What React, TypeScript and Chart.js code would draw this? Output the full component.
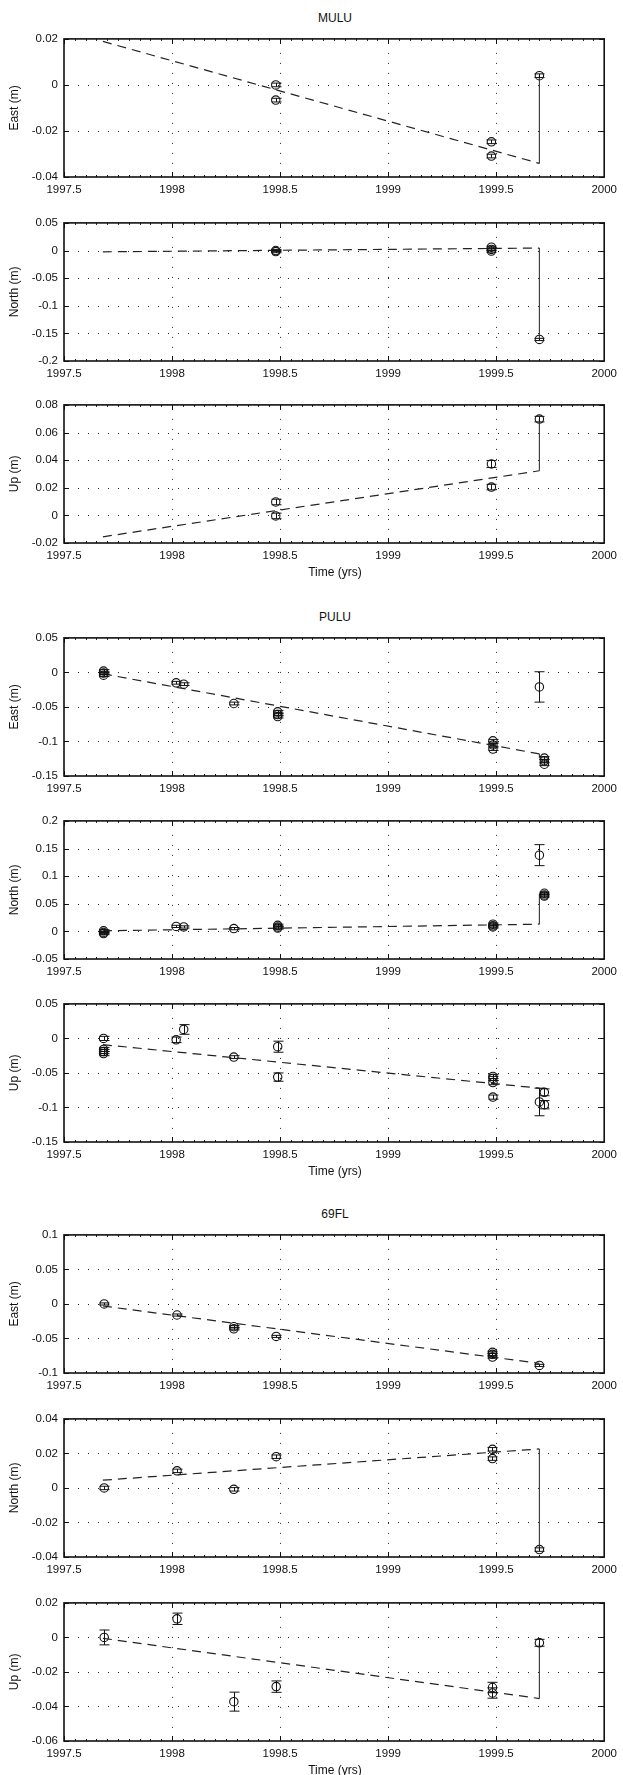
import React, { useEffect, useRef } from "react";
import { Chart, registerables } from "chart.js";
Chart.register(...registerables);

const FONT = "'Liberation Sans', Arial, Helvetica, sans-serif";

// ---------- shared axis data ----------
const yearTicks = [1997.5, 1998, 1998.5, 1999, 1999.5, 2000];
const modelT = [1997.68, 1999.7];

// ---------- MULU ----------
const muluEastT = [1998.48, 1998.48, 1999.478, 1999.478, 1999.7];
const muluEastY = [0.0, -0.0066, -0.0247, -0.0309, 0.004];
const muluEastErr = [0.0008, 0.0008, 0.0008, 0.0008, 0.0008];
const muluEastModel = [0.0189, -0.0341];
const muluEastStep = 0.004;
const muluEastTicks = [-0.04, -0.02, 0, 0.02];

const muluNorthT = [1998.48, 1998.48, 1999.478, 1999.478, 1999.478, 1999.7];
const muluNorthY = [0.0, -0.002, 0.006, 0.002, -0.001, -0.161];
const muluNorthErr = [0.002, 0.002, 0.002, 0.002, 0.002, 0.002];
const muluNorthModel = [-0.0024, 0.0045];
const muluNorthStep = -0.161;
const muluNorthTicks = [-0.2, -0.15, -0.1, -0.05, 0, 0.05];

const muluUpT = [1998.48, 1998.48, 1999.478, 1999.478, 1999.7];
const muluUpY = [0.0097, -0.0004, 0.0372, 0.0205, 0.0697];
const muluUpErr = [0.002, 0.002, 0.0025, 0.002, 0.002];
const muluUpModel = [-0.0155, 0.0323];
const muluUpStep = 0.0697;
const muluUpTicks = [-0.02, 0, 0.02, 0.04, 0.06, 0.08];

// ---------- PULU ----------
const puluEastT = [1997.683, 1997.683, 1997.683, 1998.019, 1998.054, 1998.286, 1998.489, 1998.489, 1998.489, 1999.485, 1999.485, 1999.485, 1999.7, 1999.723, 1999.723, 1999.723];
const puluEastY = [0.002, -0.001, -0.004, -0.015, -0.017, -0.045, -0.057, -0.061, -0.064, -0.099, -0.105, -0.111, -0.021, -0.124, -0.128, -0.133];
const puluEastErr = [0.002, 0.002, 0.002, 0.002, 0.002, 0.002, 0.002, 0.002, 0.002, 0.002, 0.002, 0.002, 0.022, 0.002, 0.002, 0.002];
const puluEastModel = [-0.002, -0.118];
const puluEastStep = -0.124;
const puluEastTicks = [-0.15, -0.1, -0.05, 0, 0.05];

const puluNorthT = [1997.683, 1997.683, 1997.683, 1998.019, 1998.054, 1998.286, 1998.489, 1998.489, 1998.489, 1999.485, 1999.485, 1999.485, 1999.7, 1999.723, 1999.723, 1999.723];
const puluNorthY = [0.001, -0.002, -0.004, 0.009, 0.008, 0.005, 0.011, 0.008, 0.006, 0.013, 0.01, 0.008, 0.138, 0.069, 0.066, 0.064];
const puluNorthErr = [0.002, 0.002, 0.002, 0.002, 0.002, 0.002, 0.002, 0.002, 0.002, 0.002, 0.002, 0.002, 0.019, 0.002, 0.002, 0.002];
const puluNorthModel = [0.001, 0.013];
const puluNorthStep = 0.068;
const puluNorthTicks = [-0.05, 0, 0.05, 0.1, 0.15, 0.2];

const puluUpT = [1997.683, 1997.683, 1997.683, 1997.683, 1998.019, 1998.054, 1998.286, 1998.489, 1998.489, 1999.485, 1999.485, 1999.485, 1999.485, 1999.7, 1999.723, 1999.723];
const puluUpY = [0.0, -0.016, -0.019, -0.022, -0.002, 0.013, -0.027, -0.012, -0.056, -0.055, -0.058, -0.064, -0.085, -0.092, -0.078, -0.096];
const puluUpErr = [0.003, 0.003, 0.003, 0.003, 0.004, 0.007, 0.002, 0.008, 0.006, 0.003, 0.003, 0.003, 0.003, 0.02, 0.005, 0.006];
const puluUpModel = [-0.009, -0.072];
const puluUpStep = null;
const puluUpTicks = [-0.15, -0.1, -0.05, 0, 0.05];

// ---------- 69FL ----------
const flEastT = [1997.686, 1998.023, 1998.286, 1998.286, 1998.482, 1999.483, 1999.483, 1999.483, 1999.7];
const flEastY = [0.0, -0.016, -0.033, -0.036, -0.047, -0.07, -0.073, -0.077, -0.089];
const flEastErr = [0.0015, 0.0015, 0.0015, 0.0015, 0.0015, 0.0015, 0.0015, 0.0015, 0.0015];
const flEastModel = [-0.003, -0.086];
const flEastStep = null;
const flEastTicks = [-0.1, -0.05, 0, 0.05, 0.1];

const flNorthT = [1997.686, 1998.023, 1998.286, 1998.482, 1999.483, 1999.483, 1999.7];
const flNorthY = [0.0, 0.0099, -0.0008, 0.0181, 0.0224, 0.017, -0.0357];
const flNorthErr = [0.001, 0.001, 0.001, 0.001, 0.001, 0.001, 0.001];
const flNorthModel = [0.0045, 0.0226];
const flNorthStep = -0.0357;
const flNorthTicks = [-0.04, -0.02, 0, 0.02, 0.04];

const flUpT = [1997.686, 1998.023, 1998.286, 1998.482, 1999.483, 1999.483, 1999.7];
const flUpY = [0.0, 0.0108, -0.0372, -0.0285, -0.029, -0.0322, -0.0031];
const flUpErr = [0.0043, 0.0033, 0.0055, 0.0033, 0.003, 0.003, 0.002];
const flUpModel = [-0.0005, -0.0354];
const flUpStep = -0.0031;
const flUpTicks = [-0.06, -0.04, -0.02, 0, 0.02];

type Panel = {
  label: string;
  t: number[];
  y: number[];
  err: number[];
  model: number[];
  step: number | null;
  ticks: number[];
};

const stations: { name: string; panels: Panel[] }[] = [
  {
    name: "MULU",
    panels: [
      { label: "East (m)", t: muluEastT, y: muluEastY, err: muluEastErr, model: muluEastModel, step: muluEastStep, ticks: muluEastTicks },
      { label: "North (m)", t: muluNorthT, y: muluNorthY, err: muluNorthErr, model: muluNorthModel, step: muluNorthStep, ticks: muluNorthTicks },
      { label: "Up (m)", t: muluUpT, y: muluUpY, err: muluUpErr, model: muluUpModel, step: muluUpStep, ticks: muluUpTicks },
    ],
  },
  {
    name: "PULU",
    panels: [
      { label: "East (m)", t: puluEastT, y: puluEastY, err: puluEastErr, model: puluEastModel, step: puluEastStep, ticks: puluEastTicks },
      { label: "North (m)", t: puluNorthT, y: puluNorthY, err: puluNorthErr, model: puluNorthModel, step: puluNorthStep, ticks: puluNorthTicks },
      { label: "Up (m)", t: puluUpT, y: puluUpY, err: puluUpErr, model: puluUpModel, step: puluUpStep, ticks: puluUpTicks },
    ],
  },
  {
    name: "69FL",
    panels: [
      { label: "East (m)", t: flEastT, y: flEastY, err: flEastErr, model: flEastModel, step: flEastStep, ticks: flEastTicks },
      { label: "North (m)", t: flNorthT, y: flNorthY, err: flNorthErr, model: flNorthModel, step: flNorthStep, ticks: flNorthTicks },
      { label: "Up (m)", t: flUpT, y: flUpY, err: flUpErr, model: flUpModel, step: flUpStep, ticks: flUpTicks },
    ],
  },
];

// ---------- layout ----------
const PAGE_W = 623;
const PAGE_H = 1775;
const PLOT_LEFT = 64;
const PLOT_RIGHT = 606;
const PLOT_H = 143;
const PAD_TOP = 8;
const X_AXIS_H = 30;
const CANVAS_H = PAD_TOP + PLOT_H + X_AXIS_H;
const plotTops = [
  [34, 218, 400],
  [633, 816, 999],
  [1230, 1414, 1598],
];

const INK = "#111";
const LABEL_SIZE = 12;
const TICK_SIZE = 11.5;

function fmt(v: number): string {
  const n = Number(v.toFixed(4));
  return n === 0 ? "0" : String(n);
}

function PanelChart({ panel, top }: { panel: Panel; top: number }) {
  const ref = useRef<HTMLCanvasElement | null>(null);
  useEffect(() => {
    const canvas = ref.current;
    if (!canvas) return;

    const gridPlugin = {
      id: "matlabGrid",
      beforeDatasetsDraw(chart: any) {
        const { ctx, chartArea: a, scales } = chart;
        const xs = scales.x;
        const ys = scales.y;
        ctx.save();
        ctx.strokeStyle = "#222";
        ctx.lineWidth = 1;
        ctx.setLineDash([1, 9]);
        yearTicks.forEach((v) => {
          if (v <= xs.min || v >= xs.max) return;
          const px = Math.round(xs.getPixelForValue(v)) + 0.5;
          ctx.beginPath();
          ctx.moveTo(px, a.top + 4);
          ctx.lineTo(px, a.bottom);
          ctx.stroke();
        });
        panel.ticks.forEach((v) => {
          if (v <= ys.min || v >= ys.max) return;
          const py = Math.round(ys.getPixelForValue(v)) + 0.5;
          ctx.beginPath();
          ctx.moveTo(a.left + 4, py);
          ctx.lineTo(a.right, py);
          ctx.stroke();
        });
        ctx.restore();
      },
    };

    const errPlugin = {
      id: "errBars",
      afterDatasetsDraw(chart: any) {
        const { ctx, scales } = chart;
        const xs = scales.x;
        const ys = scales.y;
        ctx.save();
        ctx.strokeStyle = INK;
        ctx.lineWidth = 1;
        ctx.setLineDash([]);
        panel.t.forEach((t, i) => {
          const px = Math.round(xs.getPixelForValue(t)) + 0.5;
          const y1 = ys.getPixelForValue(panel.y[i] + panel.err[i]);
          const y2 = ys.getPixelForValue(panel.y[i] - panel.err[i]);
          ctx.beginPath();
          ctx.moveTo(px, y1);
          ctx.lineTo(px, y2);
          ctx.moveTo(px - 5, y1);
          ctx.lineTo(px + 5, y1);
          ctx.moveTo(px - 5, y2);
          ctx.lineTo(px + 5, y2);
          ctx.stroke();
        });
        ctx.restore();
      },
    };

    const framePlugin = {
      id: "frame",
      afterDraw(chart: any) {
        const { ctx, chartArea: a, scales } = chart;
        const xs = scales.x;
        const ys = scales.y;
        ctx.save();
        ctx.setLineDash([]);
        ctx.strokeStyle = INK;
        ctx.lineWidth = 1;
        // minor ticks on x (top & bottom)
        for (let i = 1; i < 50; i++) {
          const v = 1997.5 + i * 0.05;
          const px = Math.round(xs.getPixelForValue(v)) + 0.5;
          ctx.beginPath();
          ctx.moveTo(px, a.bottom);
          ctx.lineTo(px, a.bottom - 2);
          ctx.moveTo(px, a.top);
          ctx.lineTo(px, a.top + 2);
          ctx.stroke();
        }
        yearTicks.forEach((v) => {
          const px = Math.round(xs.getPixelForValue(v)) + 0.5;
          ctx.beginPath();
          ctx.moveTo(px, a.bottom);
          ctx.lineTo(px, a.bottom - 5);
          ctx.moveTo(px, a.top);
          ctx.lineTo(px, a.top + 5);
          ctx.stroke();
        });
        panel.ticks.forEach((v) => {
          const py = Math.round(ys.getPixelForValue(v)) + 0.5;
          ctx.beginPath();
          ctx.moveTo(a.left, py);
          ctx.lineTo(a.left + 5, py);
          ctx.moveTo(a.right, py);
          ctx.lineTo(a.right - 5, py);
          ctx.stroke();
        });
        ctx.lineWidth = 1.6;
        ctx.strokeRect(a.left, a.top, a.right - a.left, a.bottom - a.top);
        ctx.restore();
      },
    };

    const datasets: any[] = [
      {
        data: modelT.map((t, i) => ({ x: t, y: panel.model[i] })),
        showLine: true,
        borderColor: "#222",
        borderWidth: 1.2,
        borderDash: [9, 6],
        pointRadius: 0,
        fill: false,
      },
    ];
    if (panel.step !== null) {
      datasets.push({
        data: [
          { x: modelT[1], y: panel.model[1] },
          { x: modelT[1], y: panel.step },
        ],
        showLine: true,
        borderColor: "#333",
        borderWidth: 1.1,
        pointRadius: 0,
        fill: false,
      });
    }
    datasets.push({
      data: panel.t.map((t, i) => ({ x: t, y: panel.y[i] })),
      showLine: false,
      pointStyle: "circle",
      pointRadius: 4.2,
      pointBorderWidth: 1.1,
      pointBorderColor: INK,
      pointBackgroundColor: "rgba(0,0,0,0)",
    });

    const tickFont = { family: FONT, size: TICK_SIZE };

    const chart = new Chart(canvas, {
      type: "scatter",
      data: { datasets },
      options: {
        animation: false,
        responsive: false,
        maintainAspectRatio: false,
        events: [],
        layout: { padding: { top: PAD_TOP, right: PAGE_W - PLOT_RIGHT, left: 0, bottom: 0 } },
        plugins: {
          legend: { display: false },
          tooltip: { enabled: false },
          title: { display: false },
        },
        scales: {
          x: {
            type: "linear",
            min: yearTicks[0],
            max: yearTicks[yearTicks.length - 1],
            afterBuildTicks: (s: any) => {
              s.ticks = yearTicks.map((v) => ({ value: v }));
            },
            afterFit: (s: any) => {
              s.height = X_AXIS_H;
            },
            grid: { display: false, drawTicks: false },
            border: { display: false },
            ticks: {
              font: tickFont,
              color: INK,
              padding: 6,
              maxRotation: 0,
              autoSkip: false,
              callback: (v: any) => fmt(Number(v)),
            },
          },
          y: {
            type: "linear",
            min: panel.ticks[0],
            max: panel.ticks[panel.ticks.length - 1],
            afterBuildTicks: (s: any) => {
              s.ticks = panel.ticks.map((v) => ({ value: v }));
            },
            afterFit: (s: any) => {
              s.width = PLOT_LEFT;
            },
            grid: { display: false, drawTicks: false },
            border: { display: false },
            ticks: {
              font: tickFont,
              color: INK,
              padding: 6,
              autoSkip: false,
              callback: (v: any) => fmt(Number(v)),
            },
            title: {
              display: true,
              text: panel.label,
              font: { family: FONT, size: LABEL_SIZE },
              color: INK,
              padding: { top: 7.5, bottom: 0 },
            },
          },
        },
      } as any,
      plugins: [gridPlugin, errPlugin, framePlugin],
    });
    return () => chart.destroy();
  }, [panel]);

  return (
    <canvas
      ref={ref}
      width={PAGE_W}
      height={CANVAS_H}
      style={{ position: "absolute", left: 0, top: top - PAD_TOP, width: PAGE_W, height: CANVAS_H }}
    />
  );
}

const textStyle: React.CSSProperties = {
  position: "absolute",
  left: PLOT_LEFT,
  width: PLOT_RIGHT - PLOT_LEFT,
  textAlign: "center",
  fontFamily: FONT,
  fontSize: LABEL_SIZE,
  lineHeight: "14px",
  height: 14,
  color: INK,
  whiteSpace: "nowrap",
};

export default function App() {
  return (
    <div
      style={{
        position: "absolute",
        left: 0,
        top: 0,
        width: PAGE_W,
        height: PAGE_H,
        overflow: "hidden",
        background: "#fff",
      }}
    >
      {stations.map((st, si) => (
        <React.Fragment key={st.name}>
          <div style={{ ...textStyle, top: plotTops[si][0] - 16 - 7 }}>{st.name}</div>
          {st.panels.map((p, pi) => (
            <PanelChart key={st.name + pi} panel={p} top={plotTops[si][pi]} />
          ))}
          <div style={{ ...textStyle, top: plotTops[si][2] + PLOT_H + 29 - 7 }}>Time (yrs)</div>
        </React.Fragment>
      ))}
    </div>
  );
}
